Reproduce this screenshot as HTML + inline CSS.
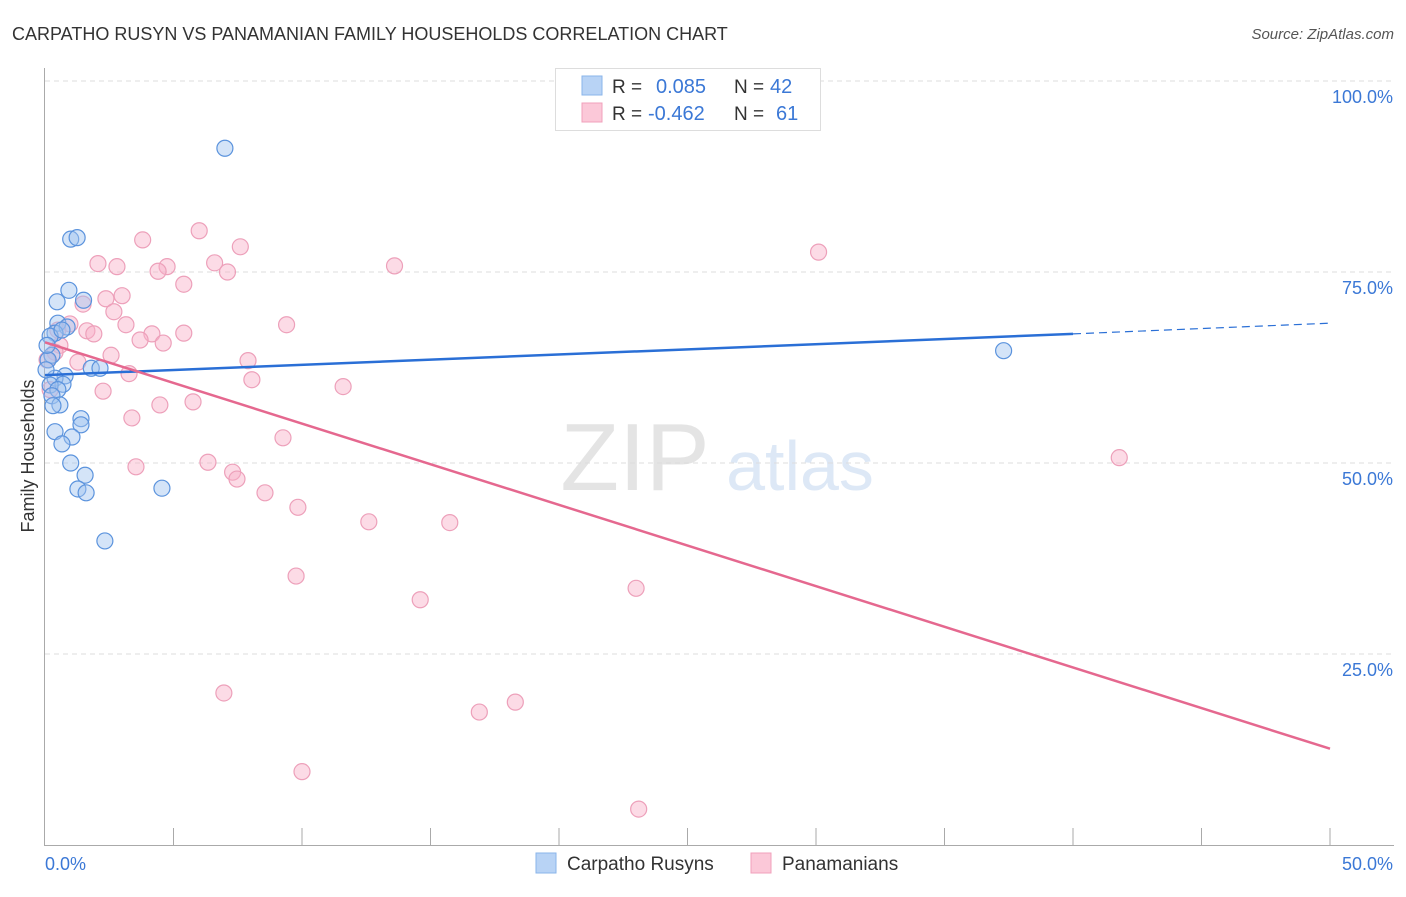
<!DOCTYPE html>
<html><head><meta charset="utf-8"><style>
body{margin:0;background:#fff;font-family:"Liberation Sans",sans-serif;}
svg text{font-family:"Liberation Sans",sans-serif;}
</style></head><body>
<svg id="chart" width="1406" height="892" xmlns="http://www.w3.org/2000/svg">
<text x="12" y="40" font-size="18" fill="#333">CARPATHO RUSYN VS PANAMANIAN FAMILY HOUSEHOLDS CORRELATION CHART</text>
<text x="1394" y="39" font-size="15" fill="#555" font-style="italic" text-anchor="end">Source: ZipAtlas.com</text>
<text x="635" y="490" font-size="96" fill="#e4e4e4" font-family="Liberation Serif" text-anchor="middle">ZIP</text>
<text x="800" y="490" font-size="70" fill="#dde8f6" text-anchor="middle">atlas</text>
<text transform="translate(34,456) rotate(-90)" font-size="18" fill="#333" text-anchor="middle">Family Households</text>
<g id="grid"></g><g id="axes"></g><g id="pts"></g><g id="lines"></g>
<g>
<rect x="555.5" y="68.5" width="265" height="62" fill="#fff" stroke="#ddd"/>
<rect x="582" y="76" width="20" height="19" fill="#b8d3f5" stroke="#8ab4ea"/>
<rect x="582" y="103" width="20" height="19" fill="#fbc8d8" stroke="#f0a0bb"/>
<text x="612" y="93" font-size="19" fill="#333">R = </text><text x="656" y="93" font-size="20" fill="#3b78d6">0.085</text>
<text x="734" y="93" font-size="19" fill="#333">N = </text><text x="770" y="93" font-size="20" fill="#3b78d6">42</text>
<text x="612" y="120" font-size="19" fill="#333">R = </text><text x="648" y="120" font-size="20" fill="#3b78d6">-0.462</text>
<text x="734" y="120" font-size="19" fill="#333">N = </text><text x="776" y="120" font-size="20" fill="#3b78d6">61</text>
</g>
<g>
<rect x="536" y="853" width="20" height="20" fill="#b8d3f5" stroke="#8ab4ea"/>
<text x="567" y="870" font-size="19" fill="#333">Carpatho Rusyns</text>
<rect x="751" y="853" width="20" height="20" fill="#fbc8d8" stroke="#f0a0bb"/>
<text x="782" y="870" font-size="19" fill="#333">Panamanians</text>
</g>
</svg>
<script>
const yTicks=[25,50,75,100];
const yTickLabels=["25.0%","50.0%","75.0%","100.0%"];
const blueX=[7.0,1.0,1.25,0.47,0.93,1.5,0.5,0.86,0.39,0.2,0.66,0.27,0.12,1.8,2.14,0.78,0.39,0.7,0.2,0.5,0.27,0.58,0.31,1.4,1.4,0.39,1.05,0.66,1.0,1.56,1.28,1.6,4.55,2.33,37.3,0.04,0.08];
const blueY=[91.2,79.3,79.5,71.1,72.6,71.3,68.3,67.8,67.0,66.6,67.4,64.1,63.5,62.4,62.4,61.4,61.1,60.3,60.2,59.6,58.8,57.6,57.5,55.8,55.0,54.1,53.4,52.5,50.0,48.4,46.6,46.1,46.7,39.8,64.7,62.2,65.4];
const pinkX=[6.0,3.8,7.6,30.1,2.06,2.8,4.75,4.4,6.6,7.1,13.6,5.4,3.0,2.37,1.48,2.68,3.15,9.4,0.97,1.63,1.9,4.16,5.4,3.7,4.6,0.58,0.39,2.57,1.28,7.9,3.27,8.05,11.6,2.26,5.76,4.47,3.38,9.26,3.54,6.34,7.3,7.47,8.56,9.84,12.6,15.75,41.8,9.77,23.0,14.6,6.96,18.3,16.9,10.0,23.1,0.08,0.2,0.5];
const pinkY=[80.4,79.2,78.3,77.6,76.1,75.7,75.7,75.1,76.2,75.0,75.8,73.4,71.9,71.5,70.8,69.8,68.1,68.1,68.2,67.3,66.9,66.9,67.0,66.1,65.7,65.4,64.5,64.1,63.2,63.4,61.7,60.9,60.0,59.4,58.0,57.6,55.9,53.3,49.5,50.1,48.8,47.9,46.1,44.2,42.3,42.2,50.7,35.2,33.6,32.1,19.9,18.7,17.4,9.6,4.7,63.5,59.6,67.4];
const blueTrend=[61.5,66.9,68.3];
const blueTrendX=[0,40,50];
const pinkTrend=[65.8,12.6];
const pinkTrendX=[0,50];
const NS="http://www.w3.org/2000/svg";
const sx=v=>45+v/50*1285;
const sy=v=>845-v/100*764;
function mk(tag,attrs,parent){const e=document.createElementNS(NS,tag);for(const k in attrs)e.setAttribute(k,attrs[k]);document.getElementById(parent).appendChild(e);return e;}
yTicks.forEach((t,i)=>{
 const g=mk('line',{x1:45,x2:1394,y1:sy(t),y2:sy(t),stroke:'#ddd','stroke-dasharray':'5,4'},'grid');
 
 
 const l=mk('text',{x:1393,y:sy(t)+22,'font-size':18,fill:'#3b78d6','text-anchor':'end'},'grid');
 l.textContent=yTickLabels[i];
 
 
});
const ax=mk('line',{x1:44.5,x2:44.5,y1:68,y2:845,stroke:'#aaa'},'axes');


const xa=mk('line',{x1:44,x2:1394,y1:845.5,y2:845.5,stroke:'#aaa'},'axes');


for(let v=5;v<=50;v+=5){const t=mk('line',{x1:sx(v),x2:sx(v),y1:828,y2:845,stroke:'#aaa'},'axes');
 
 }
const x0=mk('text',{x:45,y:870,'font-size':18,fill:'#3b78d6'},'axes');x0.textContent='0.0%';


const x1=mk('text',{x:1393,y:870,'font-size':18,fill:'#3b78d6','text-anchor':'end'},'axes');x1.textContent='50.0%';


pinkX.forEach((x,i)=>{const c=mk('circle',{cx:sx(x),cy:sy(pinkY[i]),r:8,fill:'rgba(248,176,200,0.45)',stroke:'#eda0ba','stroke-width':1.2},'pts');
 
 });
blueX.forEach((x,i)=>{const c=mk('circle',{cx:sx(x),cy:sy(blueY[i]),r:8,fill:'rgba(160,196,240,0.45)',stroke:'#5b93dd','stroke-width':1.2},'pts');
 
 });
const bl=mk('line',{x1:sx(blueTrendX[0]),y1:sy(blueTrend[0]),x2:sx(blueTrendX[1]),y2:sy(blueTrend[1]),stroke:'#2a6fd6','stroke-width':2.5},'lines');


const bd=mk('line',{x1:sx(blueTrendX[1]),y1:sy(blueTrend[1]),x2:sx(blueTrendX[2]),y2:sy(blueTrend[2]),stroke:'#2a6fd6','stroke-width':1.2,'stroke-dasharray':'8,5'},'lines');


const pl=mk('line',{x1:sx(pinkTrendX[0]),y1:sy(pinkTrend[0]),x2:sx(pinkTrendX[1]),y2:sy(pinkTrend[1]),stroke:'#e5688f','stroke-width':2.5},'lines');


</script>
</body></html>
